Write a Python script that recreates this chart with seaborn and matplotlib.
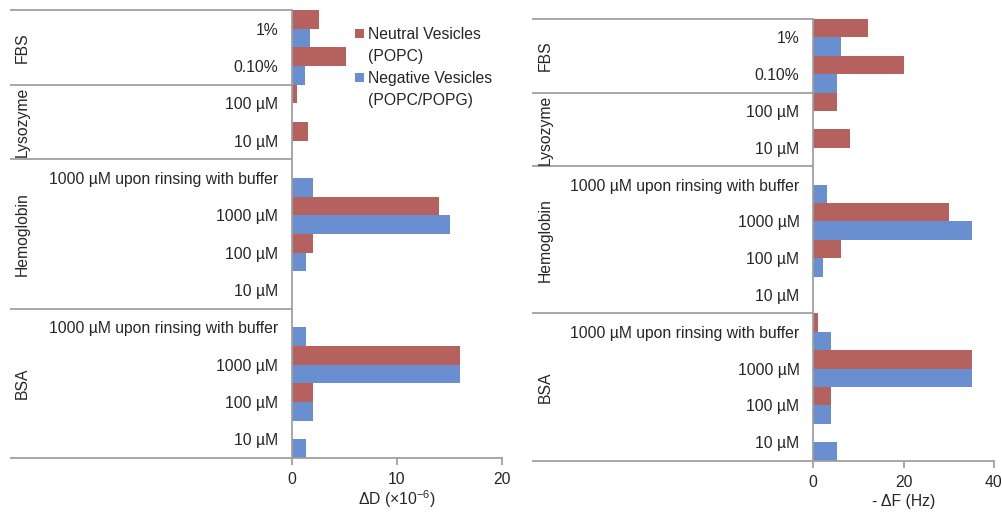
import matplotlib
matplotlib.use("Agg")
import matplotlib.pyplot as plt
import matplotlib.transforms as mtransforms
from matplotlib.patches import Patch
import seaborn as sns
import pandas as pd

# ---------------- data ----------------
groups = ["FBS", "FBS", "Lysozyme", "Lysozyme",
          "Hemoglobin", "Hemoglobin", "Hemoglobin", "Hemoglobin",
          "BSA", "BSA", "BSA", "BSA"]
conc_labels = ["1%", "0.10%", "100 µM", "10 µM",
               "1000 µM upon rinsing with buffer", "1000 µM", "100 µM", "10 µM",
               "1000 µM upon rinsing with buffer", "1000 µM", "100 µM", "10 µM"]
series_names = ["Neutral Vesicles", "Negative Vesicles"]
series_sub = ["(POPC)", "(POPC/POPG)"]

dD_neutral = [2.6, 5.1, 0.5, 1.5, 0.0, 14.0, 2.0, 0.0, 0.0, 16.0, 2.0, 0.0]
dD_negative = [1.7, 1.25, 0.0, 0.0, 2.0, 15.0, 1.3, 0.0, 1.3, 16.0, 2.0, 1.3]
dF_neutral = [12.0, 20.0, 5.3, 8.1, 0.0, 30.0, 6.1, 0.0, 1.1, 35.2, 3.9, 0.0]
dF_negative = [6.1, 5.2, 0.0, 0.0, 3.0, 35.2, 2.1, 0.0, 3.9, 35.2, 3.9, 5.3]

x_ticks_D = [0, 10, 20]
x_ticks_F = [0, 20, 40]

colors = {series_names[0]: "#B5625F", series_names[1]: "#6A8FD0"}
GRAY = "#A0A0A0"
TXT = "#262626"
FS = 11.3

sns.set_theme(style="white")
plt.rcParams["font.family"] = ["Liberation Sans", "DejaVu Sans"]
plt.rcParams["font.size"] = FS
plt.rcParams["mathtext.fontset"] = "custom"
plt.rcParams["mathtext.rm"] = "Liberation Sans"

keys = [f"{g}|{c}" for g, c in zip(groups, conc_labels)]


def make_df(neu, neg):
    rows = []
    for k, a, b in zip(keys, neu, neg):
        rows.append({"cat": k, "series": series_names[0], "value": a})
        rows.append({"cat": k, "series": series_names[1], "value": b})
    return pd.DataFrame(rows)


W, H = 1003, 513
fig = plt.figure(figsize=(W / 100, H / 100), dpi=100)
ax1 = fig.add_axes([292 / W, 1 - 458 / H, 210 / W, 448 / H])
ax2 = fig.add_axes([813.3 / W, 1 - 460.7 / H, 180.7 / W, 441.7 / H])


def draw(ax, df, xmax, ticks, xlabel, lpad, sep_left_px, ax_left_px, ax_w_px, grp_x_px):
    sns.barplot(data=df, y="cat", x="value", hue="series", order=keys,
                hue_order=series_names, palette=colors, orient="h",
                width=1.0, saturation=1, linewidth=0, errorbar=None,
                legend=(ax is ax1), ax=ax)
    ax.set_xlim(0, xmax)
    ax.set_ylim(len(keys) - 0.5, -0.5)
    ax.set_xticks(ticks)
    ax.set_xticklabels([str(t) for t in ticks], color=TXT, fontsize=FS)
    ax.set_yticks(range(len(keys)))
    ax.set_yticklabels(conc_labels, color=TXT, fontsize=FS)
    ax.set_ylabel("")
    ax.set_xlabel(xlabel, color=TXT, fontsize=FS, labelpad=lpad)
    for s in ["top", "right"]:
        ax.spines[s].set_visible(False)
    for s in ["left", "bottom"]:
        ax.spines[s].set_color(GRAY)
        ax.spines[s].set_linewidth(1.3)
    ax.tick_params(axis="y", length=0, pad=10, left=False)
    ax.tick_params(axis="x", bottom=True, length=5, width=1.3, color=GRAY,
                   direction="out", pad=5)
    ax.grid(False)

    trans = mtransforms.blended_transform_factory(ax.transAxes, ax.transData)
    xl = (sep_left_px - ax_left_px) / ax_w_px
    for yb in [-0.5, 1.5, 3.5, 7.5, 11.5]:
        ax.plot([xl, 0], [yb, yb], color=GRAY, lw=1.3, transform=trans,
                clip_on=False, solid_capstyle="butt")
    # group labels
    gx = (grp_x_px - ax_left_px) / ax_w_px
    start = 0
    for i in range(1, len(groups) + 1):
        if i == len(groups) or groups[i] != groups[start]:
            yc = (start + i - 1) / 2
            ax.text(gx, yc, groups[start], rotation=90, ha="center", va="center",
                    transform=trans, color=TXT, fontsize=FS)
            start = i


draw(ax1, make_df(dD_neutral, dD_negative), 20, x_ticks_D,
     r"ΔD (×10$^{\mathregular{-6}}$)", 1, 10, 292, 210, 22)
draw(ax2, make_df(dF_neutral, dF_negative), 40, x_ticks_F,
     "- ΔF (Hz)", 3, 532, 813.3, 180.7, 545)

handles, labels = ax1.get_legend_handles_labels()
blank = Patch(facecolor="none", edgecolor="none")
leg_handles = [handles[0], blank, handles[1], blank]
leg_labels = [labels[0], series_sub[0], labels[1], series_sub[1]]
ax1.legend(leg_handles, leg_labels, loc="upper left",
           bbox_to_anchor=(355 / W, 1 - 27 / H), bbox_transform=fig.transFigure,
           frameon=False, handlelength=0.55, handleheight=0.55, handletextpad=0.3,
           labelspacing=0.45, fontsize=FS, labelcolor=TXT, borderaxespad=0,
           borderpad=0)

fig.savefig("out.png", dpi=100)
